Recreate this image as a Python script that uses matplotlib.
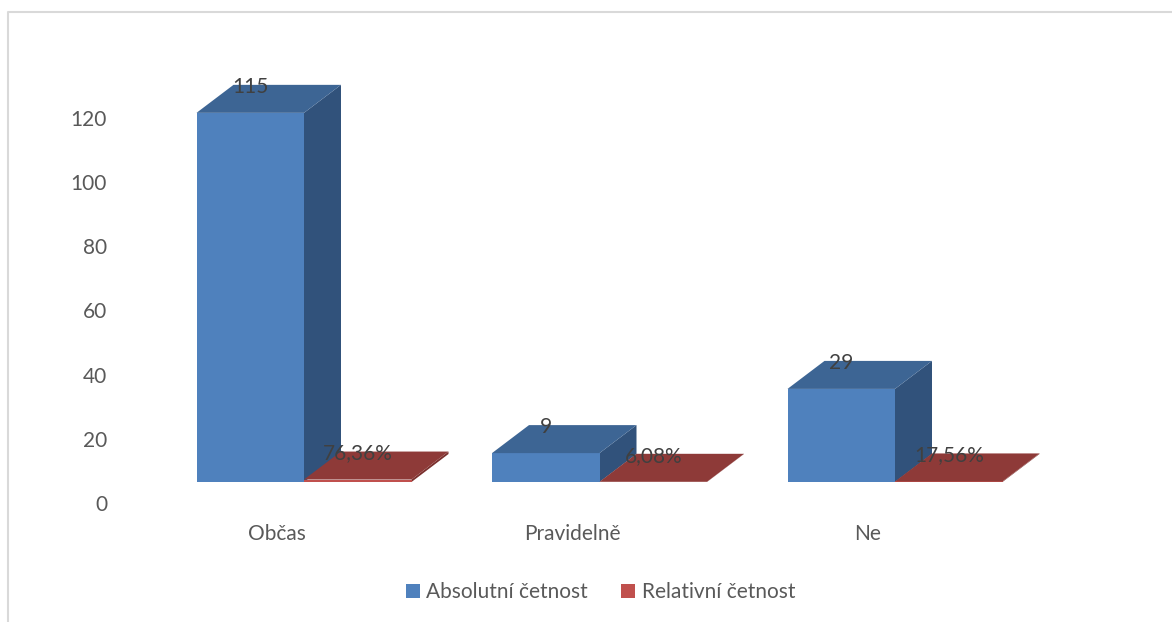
import matplotlib
matplotlib.use("Agg")
import matplotlib.pyplot as plt
import numpy as np
from matplotlib.lines import Line2D
from matplotlib.patches import Patch

categories = ["Občas", "Pravidelně", "Ne"]
absolute = [115, 9, 29]
relative = [0.7636, 0.0608, 0.1756]
absolute_labels = ["115", "9", "29"]
relative_labels = ["76,36%", "6,08%", "17,56%"]
y_ticks = [0, 20, 40, 60, 80, 100, 120]

WIDTH, HEIGHT = 1172, 622
PX_PER_CAT = 295.5
PX_PER_UNIT = 3.21

plt.rcParams["font.family"] = ["Lato", "DejaVu Sans"]

fig = plt.figure(figsize=(WIDTH / 100, HEIGHT / 100), dpi=100)

# axes box runs from value 0 to 120 and half a category past each end
left = 277 - PX_PER_CAT / 2
bottom = HEIGHT - 503
ax = fig.add_axes([left / WIDTH, bottom / HEIGHT,
                   3 * PX_PER_CAT / WIDTH, 120 * PX_PER_UNIT / HEIGHT])
ax.set_xlim(-0.5, 2.5)
ax.set_ylim(0, 120)
for spine in ax.spines.values():
    spine.set_visible(False)
ax.patch.set_visible(False)

# pseudo 3D geometry, pixels converted to axis units
floor = 21 / PX_PER_UNIT
shift = 27 / PX_PER_CAT
bar_w = 107.5 / PX_PER_CAT
depth_x = 37 / PX_PER_CAT
depth_y = 28 / PX_PER_UNIT


def draw_box(x0, value, front, top, side, z):
    x1 = x0 + bar_w
    y0, y1 = floor, floor + value
    ax.bar(x0, value, bar_w, bottom=y0, align="edge", color=front,
           linewidth=0, clip_on=False, zorder=z)
    ax.fill([x0, x1, x1 + depth_x, x0 + depth_x],
            [y1, y1, y1 + depth_y, y1 + depth_y],
            color=top, linewidth=0, clip_on=False, zorder=z)
    ax.fill([x1, x1 + depth_x, x1 + depth_x, x1],
            [y0, y0 + depth_y, y1 + depth_y, y1],
            color=side, linewidth=0, clip_on=False, zorder=z - 0.5)


label_gap = 26 / PX_PER_UNIT
for i in range(len(categories)):
    center = i + shift
    draw_box(center - bar_w, absolute[i], "#4F81BD", "#3D6594", "#31527B", 2)
    draw_box(center, relative[i], "#C0504D", "#8E3A38", "#7A302E", 3)
    ax.text(center - bar_w / 2, floor + absolute[i] + label_gap, absolute_labels[i],
            ha="center", va="center", fontsize=15, color="#404040", zorder=5)
    ax.text(center + bar_w / 2, floor + relative[i] + label_gap, relative_labels[i],
            ha="center", va="center", fontsize=15, color="#404040", zorder=5)

ax.set_xticks(range(len(categories)))
ax.set_xticklabels(categories)
ax.set_yticks(y_ticks)
ax.tick_params(axis="both", length=0, labelsize=15, labelcolor="#595959")
ax.tick_params(axis="x", pad=15)
ax.tick_params(axis="y", pad=16)

handles = [Patch(facecolor="#4F81BD", label="Absolutní četnost"),
           Patch(facecolor="#C0504D", label="Relativní četnost")]
fig.legend(handles=handles, loc="center", bbox_to_anchor=(600.5 / WIDTH, 1 - 592 / HEIGHT),
           ncol=2, frameon=False, fontsize=15, labelcolor="#595959",
           handlelength=0.68, handleheight=0.68, handletextpad=0.3, columnspacing=1.6)

# chart frame: only the top and left edges are inside the canvas
fig.add_artist(Line2D([8 / WIDTH, 8 / WIDTH, 1], [0, 1 - 11.5 / HEIGHT, 1 - 11.5 / HEIGHT],
                      color="#D9D9D9", linewidth=1.5))

fig.savefig("out.png", dpi=100)
